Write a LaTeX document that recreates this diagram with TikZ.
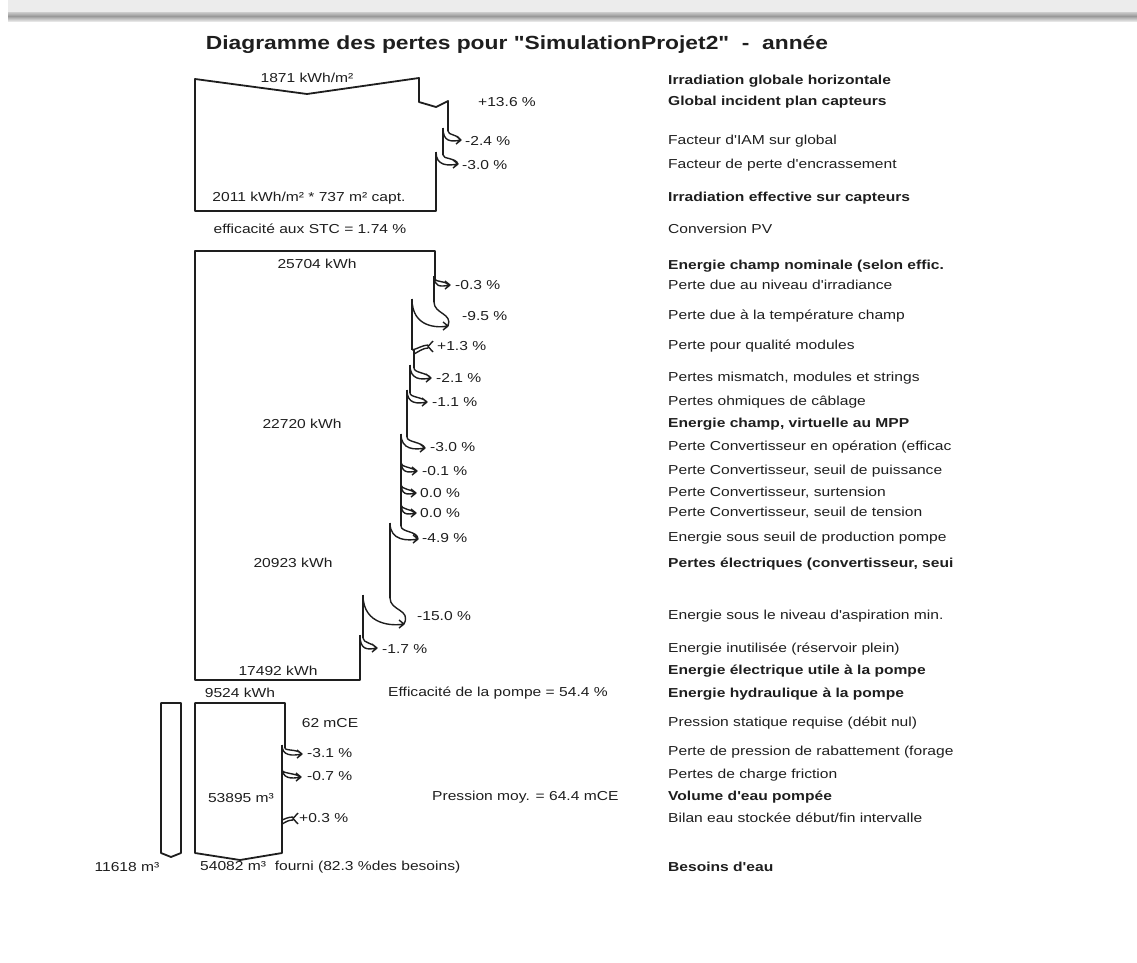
\documentclass[tikz,border=0pt]{standalone}
\usepackage{fontspec}
\setmainfont{Liberation Sans}[FakeStretch=1.2,Ligatures=TeXOff]
\usetikzlibrary{positioning}
\definecolor{pvline}{RGB}{30,30,30}
\definecolor{pvtext}{RGB}{30,30,30}

\begin{document}
\begin{tikzpicture}[x=1pt,y=-1pt,
            flow/.style={draw=pvline,line width=1.8pt,line join=round},
            val/.style={font=\fontsize{13}{15}\selectfont,text=pvtext,inner sep=0pt},
            pct/.style={val,anchor=west},
            legend/.style={val,anchor=west},
            legendb/.style={legend,font=\fontsize{13}{15}\selectfont\bfseries},
            pics/loss/.style n args={3}{code={
                \draw[flow,line width=1.4pt]
                    (0,0) .. controls (0,#3*0.5) and (#2-6+0.5*#1,#3-4-0.4*#1) .. (#2,#3)
                    (-#1,-3) .. controls (-#1,#3+2) and (#2-10,#3+2) .. (#2,#3)
                    (#2-5,#3-4) -- (#2,#3) -- (#2-5,#3+4);
            }},
            pics/gain/.style n args={3}{code={
                \draw[flow,line width=1.4pt]
                    (-#1,0) .. controls (3,-1) and (#2-5,-#3) .. (#2,-#3)
                    (0,4) .. controls (4,2) and (#2-5,-#3+3) .. (#2,-#3+3)
                    (#2+5,-#3-4) -- (#2,-#3+1.5) -- (#2+5,-#3+7);
            }}]
        \useasboundingbox (0,0) rectangle (1137,962);
        \fill[gray!15] (8,0) rectangle (1137,12);
        \shade[top color=gray!40,bottom color=gray!80] (8,12) rectangle (1137,16);
        \shade[top color=gray!80,bottom color=gray!20] (8,16) rectangle (1137,21);

        \node[font=\fontsize{19}{22}\selectfont\bfseries,text=pvtext] (title) at (517,45)
            {Diagramme des pertes pour "SimulationProjet2"~~-~~année};

        % irradiation
        \draw[flow] (436,152) -- (436,211) -- (195,211) -- (195,79) -- (307,94) -- (419,78)
            -- (419,102) -- (436,107) -- (448,101) -- (448,131);
        \draw[flow] (443,128) -- (443,155);
        \pic at (448,131) {loss={5}{13}{9}};
        \pic at (443,155) {loss={7}{15}{9}};
        \node[val] (ghi) at (307,78) {1871 kWh/m²};
        \node[pct] (pgain) at (478,102) {+13.6 \%};
        \node[pct] (piam) at (465,141) {-2.4 \%};
        \node[pct] (psoil) at (462,165) {-3.0 \%};
        \node[val] (geff) at (309,198) {2011 kWh/m² * 737 m² capt.};
        \node[val] (stc) at (310,229) {efficacité aux STC = 1.74 \%};

        % energie electrique
        \draw[flow] (435,279) -- (435,251) -- (195,251) -- (195,680) -- (360,680) -- (360,635);
        \draw[flow] (434,276) -- (434,302)
            (412,299) -- (412,350)
            (414,350) -- (414,368)
            (410,365) -- (410,393)
            (407,390) -- (407,437)
            (401,434) -- (401,526)
            (390,523) -- (390,598)
            (363,595) -- (363,638);
        \pic at (435,279) {loss={1}{15}{6}};
        \pic at (434,302) {loss={22}{14}{24}};
        \pic at (414,350) {gain={2}{14}{5}};
        \pic at (414,368) {loss={4}{17}{10}};
        \pic at (410,393) {loss={3}{17}{9}};
        \pic at (407,437) {loss={6}{18}{11}};
        \pic at (401,463) {loss={0}{16}{8}};
        \pic at (401,485) {loss={0}{15}{8}};
        \pic at (401,505) {loss={0}{15}{8}};
        \pic at (401,526) {loss={11}{17}{13}};
        \pic at (390,598) {loss={27}{14}{26}};
        \pic at (363,638) {loss={3}{14}{10}};
        \node[val] (enom) at (317,264) {25704 kWh};
        \node[val] (empp) at (302,424) {22720 kWh};
        \node[val] (eelec) at (293,563) {20923 kWh};
        \node[val] (eutil) at (278,671) {17492 kWh};
        \node[val] (ehydr) at (240,693) {9524 kWh};
        \node[pct] (pirr) at (455,285) {-0.3 \%};
        \node[pct] (ptemp) at (462,316) {-9.5 \%};
        \node[pct] (pqual) at (437,346) {+1.3 \%};
        \node[pct] (pmis) at (436,378) {-2.1 \%};
        \node[pct] (pohm) at (432,402) {-1.1 \%};
        \node[pct] (pconv) at (430,447) {-3.0 \%};
        \node[pct] (ppow) at (422,471) {-0.1 \%};
        \node[pct] (psurt) at (420,493) {0.0 \%};
        \node[pct] (ptens) at (420,513) {0.0 \%};
        \node[pct] (pseuil) at (422,538) {-4.9 \%};
        \node[pct] (pasp) at (417,616) {-15.0 \%};
        \node[pct] (pres) at (382,649) {-1.7 \%};
        \node[legend] (effpompe) at (388,693) {Efficacité de la pompe = 54.4 \%};

        % eau
        \draw[flow] (161,703) -- (181,703) -- (181,853) -- (171,857) -- (161,853) -- cycle;
        \draw[flow] (285,748) -- (285,703) -- (195,703) -- (195,853) -- (240,860) -- (282,853)
            -- (282,820);
        \draw[flow] (282,745) -- (282,820);
        \pic at (285,748) {loss={3}{17}{6}};
        \pic at (282,770) {loss={0}{19}{7}};
        \pic at (282,820) {gain={0}{11}{3}};
        \node[val] (hstat) at (330,723) {62 mCE};
        \node[pct] (prab) at (307,753) {-3.1 \%};
        \node[pct] (pfric) at (307,776) {-0.7 \%};
        \node[val] (vpomp) at (241,798) {53895 m³};
        \node[pct] (pstock) at (299,818) {+0.3 \%};
        \node[legend] (pmoy) at (432,797) {Pression moy. = 64.4 mCE};
        \node[val] (vmanq) at (127,867) {11618 m³};
        \node[legend] (vfourni) at (200,867) {54082 m³~~fourni (82.3 \%des besoins)};

        % legende
        \node[legendb] (l1) at (668,81) {Irradiation globale horizontale};
        \node[legendb] (l2) at (668,102) {Global incident plan capteurs};
        \node[legend] (l3) at (668,141) {Facteur d'IAM sur global};
        \node[legend] (l4) at (668,165) {Facteur de perte d'encrassement};
        \node[legendb] (l5) at (668,198) {Irradiation effective sur capteurs};
        \node[legend] (l6) at (668,229) {Conversion PV};
        \node[legendb] (l7) at (668,266) {Energie champ nominale (selon effic.};
        \node[legend] (l8) at (668,285) {Perte due au niveau d'irradiance};
        \node[legend] (l9) at (668,316) {Perte due à la température champ};
        \node[legend] (l10) at (668,346) {Perte pour qualité modules};
        \node[legend] (l11) at (668,378) {Pertes mismatch, modules et strings};
        \node[legend] (l12) at (668,402) {Pertes ohmiques de câblage};
        \node[legendb] (l13) at (668,424) {Energie champ, virtuelle au MPP};
        \node[legend] (l14) at (668,447) {Perte Convertisseur en opération (efficac};
        \node[legend] (l15) at (668,471) {Perte Convertisseur, seuil de puissance};
        \node[legend] (l16) at (668,493) {Perte Convertisseur, surtension};
        \node[legend] (l17) at (668,513) {Perte Convertisseur, seuil de tension};
        \node[legend] (l18) at (668,538) {Energie sous seuil de production pompe};
        \node[legendb] (l19) at (668,564) {Pertes électriques (convertisseur, seui};
        \node[legend] (l20) at (668,616) {Energie sous le niveau d'aspiration min.};
        \node[legend] (l21) at (668,649) {Energie inutilisée (réservoir plein)};
        \node[legendb] (l22) at (668,671) {Energie électrique utile à la pompe};
        \node[legendb] (l23) at (668,694) {Energie hydraulique à la pompe};
        \node[legend] (l24) at (668,723) {Pression statique requise (débit nul)};
        \node[legend] (l25) at (668,752) {Perte de pression de rabattement (forage};
        \node[legend] (l26) at (668,775) {Pertes de charge friction};
        \node[legendb] (l27) at (668,797) {Volume d'eau pompée};
        \node[legend] (l28) at (668,818) {Bilan eau stockée début/fin intervalle};
        \node[legendb] (l29) at (668,867) {Besoins d'eau};
        \end{tikzpicture}
\end{document}
